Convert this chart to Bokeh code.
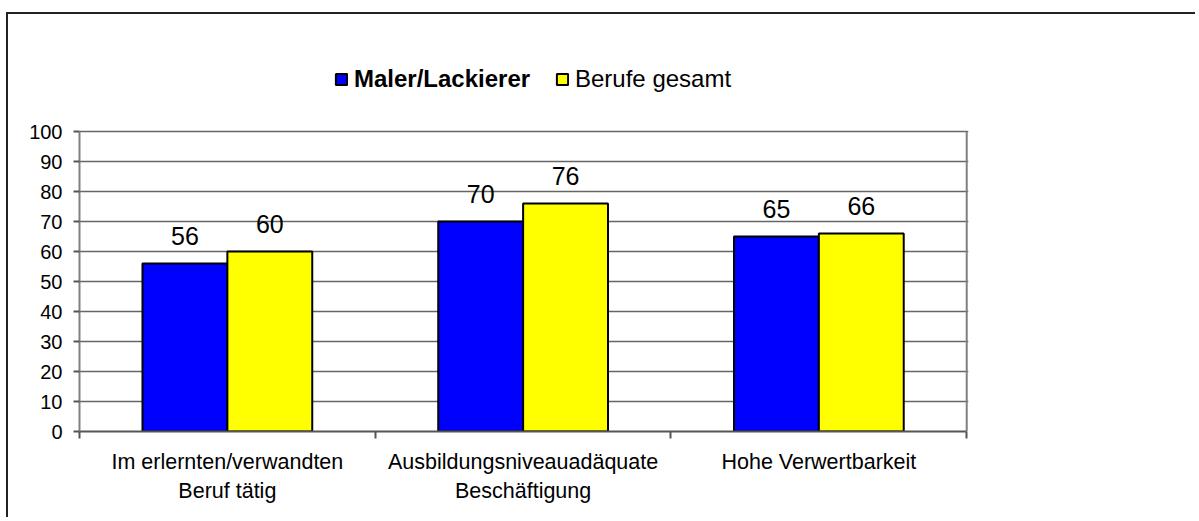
import numpy as np
from bokeh.plotting import figure
from bokeh.models import (Range1d, FixedTicker, ColumnDataSource, LabelSet, Legend, LegendItem)
from bokeh.core.properties import value
from bokeh.embed import file_html
from bokeh.resources import INLINE

categories = ["Im erlernten/verwandten\nBeruf tätig", "Ausbildungsniveauadäquate\nBeschäftigung", "Hohe Verwertbarkeit"]
series_names = ["Maler/Lackierer", "Berufe gesamt"]
maler = [56, 70, 65]
gesamt = [60, 76, 66]
y_ticks = [0, 10, 20, 30, 40, 50, 60, 70, 80, 90, 100]

FONT = "Liberation Sans"
BAR_W = 0.287
BLUE, YELLOW = "#0000FF", "#FFFF00"
n = len(categories)
ymax = y_ticks[-1]
centers = np.arange(n) + 0.5

# frame extends above 100 so that the legend can sit inside it
p = figure(width=1189, height=505, output_backend="svg", toolbar_location=None,
           x_range=Range1d(0, n + 0.006), y_range=Range1d(0, ymax * 1.27),
           min_border_left=71, min_border_right=229, min_border_top=36, min_border_bottom=88)
p.styles = {"margin-left": "6px", "margin-top": "12px",
            "border-top": "2px solid #222", "border-left": "2px solid #222"}
p.background_fill_color = "white"
p.border_fill_color = "white"
p.outline_line_color = None

p.xgrid.grid_line_color = None
p.ygrid.ticker = FixedTicker(ticks=y_ticks)
p.ygrid.grid_line_color = "#666666"
p.ygrid.grid_line_width = 1.5

# right border of the plot area
p.segment(x0=[n], y0=[0], x1=[n], y1=[ymax], line_color="#808080", line_width=2)

src1 = ColumnDataSource(dict(x=centers - BAR_W / 2, y=maler, t=[str(v) for v in maler]))
src2 = ColumnDataSource(dict(x=centers + BAR_W / 2, y=gesamt, t=[str(v) for v in gesamt]))
r1 = p.vbar(x="x", top="y", width=BAR_W, source=src1, fill_color=BLUE, line_color="black", line_width=2)
r2 = p.vbar(x="x", top="y", width=BAR_W, source=src2, fill_color=YELLOW, line_color="black", line_width=2)

for s in (src1, src2):
    p.add_layout(LabelSet(x="x", y="y", text="t", source=s, y_offset=19,
                          text_align="center", text_baseline="alphabetic",
                          text_font=value(FONT), text_font_size="25px", text_color="black"))

# axes
p.xaxis.ticker = FixedTicker(ticks=list(centers), minor_ticks=list(range(n + 1)))
p.xaxis.major_label_overrides = {float(c): lab for c, lab in zip(centers, categories)}
p.xaxis.bounds = (0, n)
p.xaxis.major_tick_out = 0
p.xaxis.major_tick_in = 0
p.xaxis.minor_tick_out = 7
p.xaxis.minor_tick_in = 0
p.xaxis.minor_tick_line_color = "#555555"
p.xaxis.minor_tick_line_width = 2
p.xaxis.axis_line_color = "#555555"
p.xaxis.axis_line_width = 2
p.xaxis.major_label_standoff = 11
p.xaxis.major_label_text_font = FONT
p.xaxis.major_label_text_font_size = "21.5px"
p.xaxis.major_label_text_color = "black"
p.xaxis.major_label_text_line_height = 1.22

p.yaxis.ticker = FixedTicker(ticks=y_ticks)
p.yaxis.bounds = (0, ymax)
p.yaxis.minor_tick_line_color = None
p.yaxis.major_tick_out = 6
p.yaxis.major_tick_in = 0
p.yaxis.major_tick_line_color = "#555555"
p.yaxis.major_tick_line_width = 2
p.yaxis.axis_line_color = "#808080"
p.yaxis.axis_line_width = 2
p.yaxis.major_label_standoff = 11
p.yaxis.major_label_text_font = FONT
p.yaxis.major_label_text_font_size = "20px"
p.yaxis.major_label_text_color = "black"

# legend: two parts (bold / normal)
common = dict(orientation="horizontal", padding=0, margin=0, spacing=0,
              glyph_width=14, glyph_height=14, label_standoff=6, label_height=28,
              label_text_font=FONT, label_text_font_size="24px", label_text_color="black",
              border_line_color=None, background_fill_alpha=0)
p.add_layout(Legend(items=[LegendItem(label=series_names[0], renderers=[r1])],
                    location=(255, 338), label_text_font_style="bold", **common), "center")
p.add_layout(Legend(items=[LegendItem(label=series_names[1], renderers=[r2])],
                    location=(476, 338), **common), "center")

open("out.html", "w").write(file_html(p, INLINE))
